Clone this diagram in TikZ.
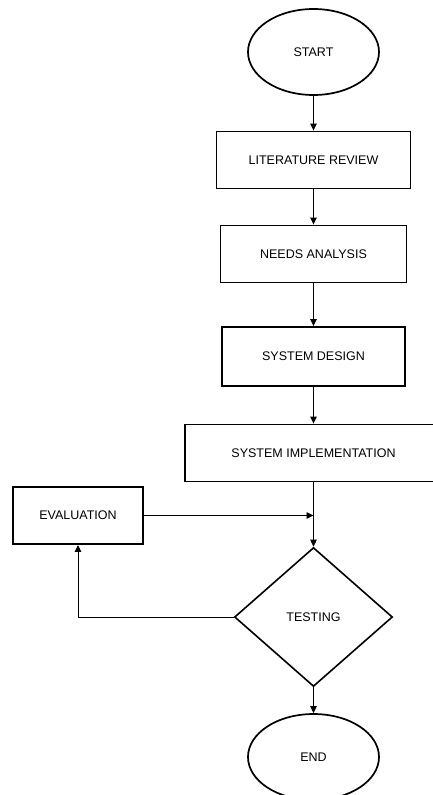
\documentclass[tikz,border=0pt]{standalone}
\usepackage{fontspec}
\setmainfont{Liberation Sans}
\usepackage{tikz}
\usetikzlibrary{positioning,shapes.geometric,arrows.meta}

\tikzset{
  terminal/.style={ellipse,draw,line width=1.7pt,minimum width=131pt,
    minimum height=86pt,inner sep=0pt},
  process/.style={rectangle,draw,line width=1.9pt,minimum height=57pt,
    inner sep=0pt},
  decision/.style={diamond,draw,line width=1.6pt,minimum width=158pt,
    minimum height=139pt,inner sep=0pt}
}

\begin{document}
\begin{tikzpicture}[->,>={Triangle[length=7pt,width=6.5pt]},on grid,
      line width=0.9pt,font=\fontsize{12.5}{15}\selectfont]

      \useasboundingbox (0pt,0pt) rectangle (433pt,-795pt);

      % main flow
      \node[terminal] (start) at (313.5pt,-52pt) {START};
      \node[process,minimum width=194pt] (litrev) [below=108pt of start] {LITERATURE REVIEW};
      \node[process,minimum width=186pt] (needs) [below=94pt of litrev] {NEEDS ANALYSIS};
      \node[process,minimum width=183pt,minimum height=59pt] (design) [below=102.5pt of needs] {SYSTEM DESIGN};
      \node[process,minimum width=257pt] (implem) [below=96.5pt of design] {SYSTEM IMPLEMENTATION};
      \node[decision] (testing) [below=164pt of implem] {TESTING};
      \node[terminal] (end) [below=140pt of testing] {END};
      % loop back
      \node[process,minimum width=130pt,minimum height=57pt] (eval)
        [below left=62.5pt and 235.5pt of implem] {EVALUATION};

      \path
        (start) edge (litrev)
        (litrev) edge (needs)
        (needs) edge (design)
        (design) edge (implem)
        (implem) edge (testing)
        (testing) edge (end);
      \draw (eval.east) -- (eval.east -| implem.south);
      \draw (testing.west) -| (eval.south);
\end{tikzpicture}
\end{document}
